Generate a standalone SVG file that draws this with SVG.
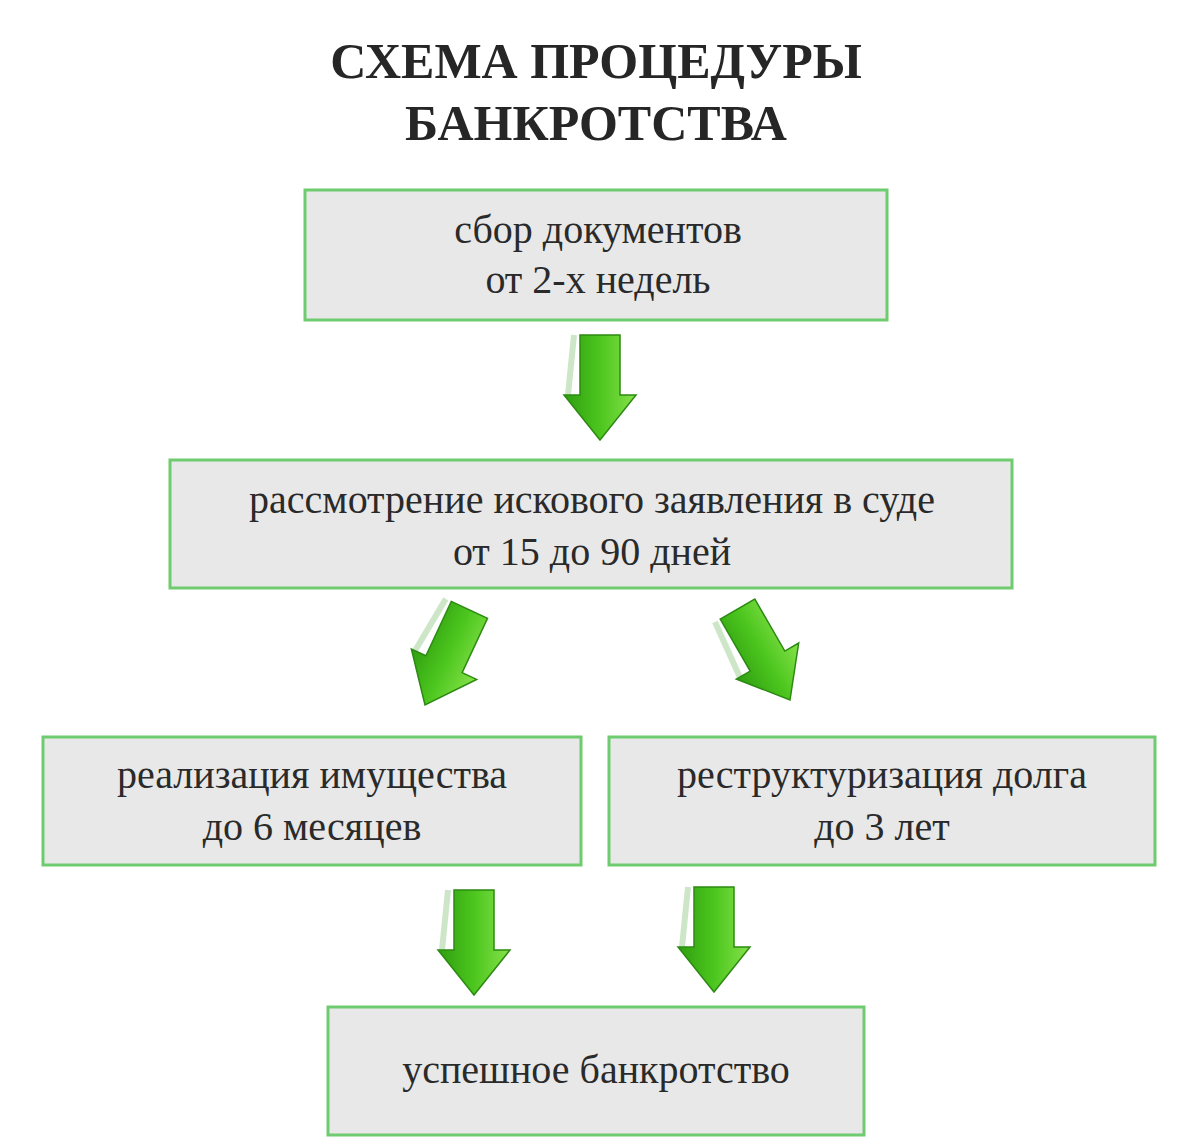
<svg xmlns="http://www.w3.org/2000/svg" width="1200" height="1145" viewBox="0 0 1200 1145">
<style>
.box{fill:#e8e8e8;stroke:#6fcb6f;stroke-width:3}
.t{font-family:"Liberation Serif",serif;font-size:40px;fill:#2a2a2a;text-anchor:middle}
.h{font-family:"Liberation Serif",serif;font-size:50px;font-weight:bold;fill:#262626;text-anchor:middle}
</style>
<defs>
<linearGradient id="g" x1="0" y1="0" x2="1" y2="0">
<stop offset="0" stop-color="#2f9e10"/><stop offset="0.5" stop-color="#4cc61e"/><stop offset="1" stop-color="#86e24a"/>
</linearGradient>
<g id="arr">
<path d="M-26,-105 L-32,-45" stroke="#b8dcb0" stroke-width="6" opacity="0.7" fill="none"/>
<path d="M-20,-105 L20,-105 L20,-45 L36,-45 L0,0 L-36,-45 L-20,-45 Z" fill="url(#g)" stroke="#2c8a12" stroke-width="1.5"/>
</g>
</defs>
<text class="h" x="596" y="78">СХЕМА ПРОЦЕДУРЫ</text>
<text class="h" x="596" y="140">БАНКРОТСТВА</text>
<g id="connectors">
<use href="#arr" transform="translate(600,440)"/>
<use href="#arr" transform="translate(425,705) rotate(25)"/>
<use href="#arr" transform="translate(790,700) rotate(-30)"/>
<use href="#arr" transform="translate(474,995)"/>
<use href="#arr" transform="translate(714,992)"/>
</g>
<g id="n1"><rect class="box" x="305" y="190" width="582" height="130"/>
<text class="t" x="598" y="243">сбор документов</text><text class="t" x="598" y="293">от 2-х недель</text></g>
<g id="n2"><rect class="box" x="170" y="460" width="842" height="128"/>
<text class="t" x="592" y="513">рассмотрение искового заявления в суде</text><text class="t" x="592" y="565">от 15 до 90 дней</text></g>
<g id="n3"><rect class="box" x="43" y="737" width="538" height="128"/>
<text class="t" x="312" y="788">реализация имущества</text><text class="t" x="312" y="840">до 6 месяцев</text></g>
<g id="n4"><rect class="box" x="609" y="737" width="546" height="128"/>
<text class="t" x="882" y="788">реструктуризация долга</text><text class="t" x="882" y="840">до 3 лет</text></g>
<g id="n5"><rect class="box" x="328" y="1007" width="536" height="128"/>
<text class="t" x="596" y="1083">успешное банкротство</text></g>
</svg>
